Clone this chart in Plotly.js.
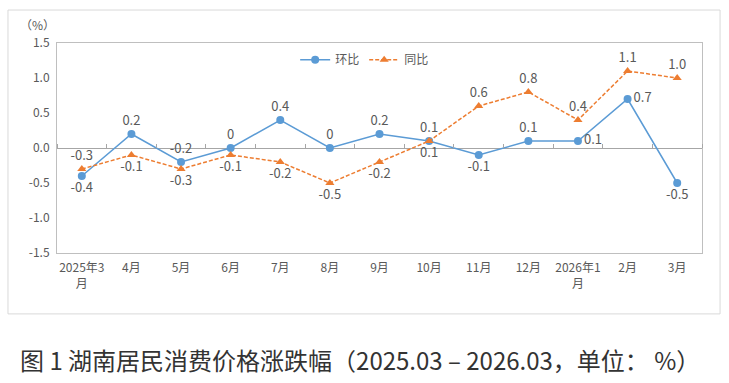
<!DOCTYPE html>
<html>
<head>
<meta charset="utf-8">
<script src="https://cdn.plot.ly/plotly-3.0.1.min.js"></script>
<style>html,body{margin:0;padding:0;background:#fff;}#chart{width:729px;height:383px;}</style>
</head>
<body>
<div id="chart"></div>
<script>
var categories = ["2025年3<br>月","4月","5月","6月","7月","8月","9月","10月","11月","12月","2026年1<br>月","2月","3月"];
var momValues = [-0.4, 0.2, -0.2, 0, 0.4, 0, 0.2, 0.1, -0.1, 0.1, 0.1, 0.7, -0.5];
var yoyValues = [-0.3, -0.1, -0.3, -0.1, -0.2, -0.5, -0.2, 0.1, 0.6, 0.8, 0.4, 1.1, 1.0];
var yTickVals = [-1.5, -1.0, -0.5, 0, 0.5, 1.0, 1.5];
var yTickText = ["-1.5","-1.0","-0.5","0.0","0.5","1.0","1.5"];
var seriesNames = ["环比","同比"];
var captionText = "图 1 湖南居民消费价格涨跌幅（2025.03 – 2026.03，单位： %）";

var momLabelPos = ["bottom center","top center","top center","top center","top center","top center","top center","top center","bottom center","top center","middle right","middle right","bottom center"];
var yoyLabelPos = ["top center","bottom center","bottom center","bottom center","bottom center","bottom center","bottom center","bottom center","top center","top center","top center","top center","top center"];

function fmt(v){ return v === 0 ? "0" : v.toFixed(1); }

var font = "Noto Sans CJK SC, Noto Sans, sans-serif";
var gray = "#595959";

var traces = [
  {
    x: categories, y: momValues, name: seriesNames[0], type: "scatter", mode: "lines+markers+text",
    line: {color: "#5B9BD5", width: 1.5},
    marker: {color: "#5B9BD5", size: 8, symbol: "circle"},
    text: momValues.map(fmt), textposition: momLabelPos,
    textfont: {family: font, size: 13, color: gray},
    cliponaxis: false
  },
  {
    x: categories, y: yoyValues, name: seriesNames[1], type: "scatter", mode: "lines+markers+text",
    line: {color: "#ED7D31", width: 1.5, dash: "4px,2px"},
    marker: {color: "#ED7D31", size: 8, symbol: "triangle-up"},
    text: yoyValues.map(fmt), textposition: yoyLabelPos,
    textfont: {family: font, size: 13, color: gray},
    cliponaxis: false
  },
  {
    x: categories, y: momValues, xaxis: "x2", type: "scatter", mode: "none",
    showlegend: false, hoverinfo: "skip"
  }
];

var layout = {
  width: 729, height: 383,
  margin: {l: 57, r: 27, t: 43, b: 130},
  paper_bgcolor: "#fff", plot_bgcolor: "#fff",
  font: {family: font, color: gray, size: 12},
  showlegend: true,
  legend: {orientation: "h", x: 0.477, xanchor: "center", y: 0.92, yanchor: "middle",
    font: {family: font, size: 12, color: gray}, bgcolor: "rgba(0,0,0,0)"},
  xaxis: {
    type: "category", range: [-0.5, 12.5], showgrid: false, zeroline: false,
    showline: true, mirror: true, linecolor: "#BFBFBF", linewidth: 1,
    ticks: "", ticklabelstandoff: 4, tickfont: {family: font, size: 12, color: gray}, fixedrange: true
  },
  xaxis2: {
    type: "category", range: [-0.5, 12.5], overlaying: "x", anchor: "free", position: 0.5,
    side: "top", showgrid: false, zeroline: false, showline: false,
    ticks: "outside", ticklen: 4, tickcolor: "#A6A6A6", tickwidth: 1, tickson: "boundaries",
    showticklabels: false
  },
  yaxis: {
    range: [-1.5, 1.5], tickvals: yTickVals, ticktext: yTickText,
    showgrid: false, zeroline: true, zerolinecolor: "#A6A6A6", zerolinewidth: 1,
    showline: true, mirror: true, linecolor: "#BFBFBF", linewidth: 1,
    ticks: "", ticklabelstandoff: 4, tickfont: {family: font, size: 12, color: gray}, fixedrange: true
  },
  annotations: [
    {text: "（%）", xref: "paper", yref: "paper", x: -0.03, y: 1.09, xanchor: "center", yanchor: "middle",
     showarrow: false, font: {family: font, size: 12, color: gray}},
    {text: captionText, xref: "paper", yref: "paper", x: 0.47, y: -0.505, xanchor: "center", yanchor: "middle",
     showarrow: false, font: {family: font, size: 24, color: "#333333"}}
  ],
  shapes: [
    {type: "rect", xref: "paper", yref: "paper", x0: -0.076, x1: 1.028, y0: -0.29, y1: 1.157,
     line: {color: "#D9D9D9", width: 1}, fillcolor: "rgba(0,0,0,0)", layer: "below"}
  ]
};

Plotly.newPlot("chart", traces, layout, {displayModeBar: false, staticPlot: true});
</script>
</body>
</html>
